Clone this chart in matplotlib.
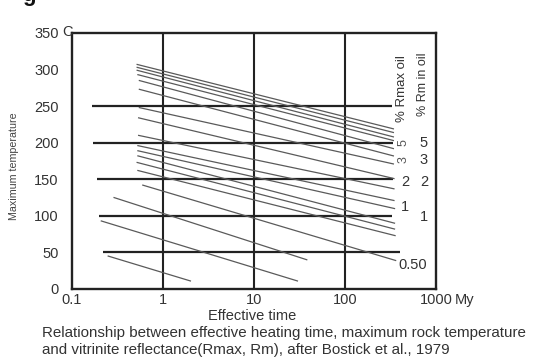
import matplotlib.pyplot as plt
import numpy as np

# diagonal curves: start (time My, temp C) and end (time My, temp C)
start_time = [0.52, 0.52, 0.52, 0.53, 0.55, 0.55, 0.55, 0.54, 0.54, 0.53, 0.53, 0.53, 0.52, 0.53, 0.60, 0.29, 0.21, 0.25]
start_temp = [307, 303, 299, 293, 285, 273, 248, 234, 210, 196, 189, 182, 173, 162, 142, 125, 93, 45]
end_time = [340, 340, 340, 340, 340, 340, 340, 345, 345, 345, 350, 350, 350, 355, 360, 38, 30, 2.0]
end_temp = [219, 214, 208, 203, 192, 182, 171, 151, 137, 121, 110, 90, 82, 73, 39, 40, 11, 11]

# thick horizontal reference lines
hline_temp = [250, 200, 150, 100, 50]
hline_start = [0.165, 0.168, 0.19, 0.196, 0.22]
hline_end = [330, 340, 340, 330, 400]

vline_time = [1, 10, 100]

xtick_vals = [0.1, 1, 10, 100, 1000]
xtick_text = ['0.1', '1', '10', '100', '1000']
ytick_vals = [0, 50, 100, 150, 200, 250, 300, 350]
ytick_text = ['0', '50', '100', '150', '200', '250', '300', '350']

# labels on the right side: (text, temp)
rmax_labels = [('2', 146), ('1', 112)]
rm_labels = [('5', 200), ('3', 177), ('2', 146), ('1', 99)]

plt.rcParams['font.family'] = ['Liberation Sans', 'DejaVu Sans']

fig = plt.figure(figsize=(5.33, 3.59), dpi=100)
ax = fig.add_axes([72/533, 1-289/359, 364/533, 256/359])
ax.set_xscale('log')
ax.set_xlim(0.1, 1000)
ax.set_ylim(0, 350)

ink = '#222222'
grey_txt = '#333333'
for t, a, b in zip(hline_temp, hline_start, hline_end):
    ax.plot([a, b], [t, t], color=ink, lw=1.6, solid_capstyle='butt')
for v in vline_time:
    ax.axvline(v, color=ink, lw=1.5)
for x0, y0, x1, y1 in zip(start_time, start_temp, end_time, end_temp):
    ax.plot([x0, x1], [y0, y1], color='#5a5a5a', lw=0.9)

for s in ax.spines.values():
    s.set_linewidth(1.7)
    s.set_color(ink)
ax.tick_params(length=0, labelsize=10.5, labelcolor=grey_txt)
ax.tick_params(axis='x', pad=3)
ax.tick_params(axis='y', pad=9.5)
ax.set_xticks(xtick_vals)
ax.set_xticklabels(xtick_text)
ax.minorticks_off()
ax.set_yticks(ytick_vals)
ax.set_yticklabels(ytick_text)

# right side annotations, inside the frame
tr = ax.get_yaxis_transform()
for txt, t in rmax_labels:
    ax.text(0.915, t, txt, transform=tr, ha='center', va='center', fontsize=10.5, color=grey_txt)
for txt, t in rm_labels:
    ax.text(0.967, t, txt, transform=tr, ha='center', va='center', fontsize=10.5, color=grey_txt)
ax.text(0.937, 33, '0.50', transform=tr, ha='center', va='center', fontsize=10.5, color=grey_txt)
ax.text(0.912, 200, '5', transform=tr, rotation=90, ha='center', va='center', fontsize=9, color='#555555')
ax.text(0.912, 177, '3', transform=tr, rotation=90, ha='center', va='center', fontsize=9, color='#555555')
ax.text(0.906, 229, '% Rmax oil', transform=tr, rotation=90, ha='center', va='bottom',
        fontsize=9.5, color=grey_txt)
ax.text(0.963, 236, '% Rm in oil', transform=tr, rotation=90, ha='center', va='bottom',
        fontsize=9, color=grey_txt)

fig.text(62/533, 1-32/359, 'C', ha='left', va='center', fontsize=10.5, color=grey_txt)
fig.text(455/533, 1-300/359, 'My', ha='left', va='center', fontsize=10.5, color=grey_txt)
fig.text(252/533, 1-316/359, 'Effective time', ha='center', va='center', fontsize=10.5, color=grey_txt)
fig.text(14/533, 1-166/359, 'Maximum temperature', rotation=90, ha='center', va='center',
         fontsize=7.7, color='#444444')
fig.text(42/533, 1-333/359, 'Relationship between effective heating time, maximum rock temperature',
         ha='left', va='center', fontsize=10.9, color=grey_txt)
fig.text(42/533, 1-350/359, 'and vitrinite reflectance(Rmax, Rm), after Bostick et al., 1979',
         ha='left', va='center', fontsize=10.9, color=grey_txt)
fig.text(22/533, 1-1/359, 'g', ha='left', va='baseline', fontsize=16, fontweight='bold', color='#111111')

fig.savefig('out.png', dpi=100)
